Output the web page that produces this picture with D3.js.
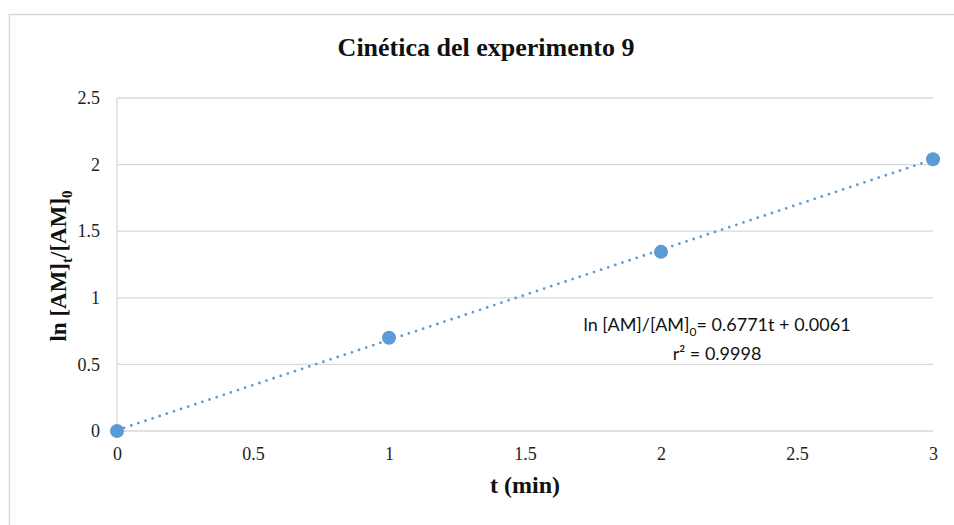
<!DOCTYPE html>
<html>
<head>
<meta charset="utf-8">
<script src="https://cdn.jsdelivr.net/npm/d3@7"></script>
<style>
  body { margin: 0; background: #fff; }
</style>
</head>
<body>
<div id="chart"></div>
<script>
// data
const times = [0, 1, 2, 3];
const lnRatio = [0, 0.70, 1.345, 2.04];
const xTicks = [0, 0.5, 1, 1.5, 2, 2.5, 3];
const yTicks = [0, 0.5, 1, 1.5, 2, 2.5];
const slope = 0.6771;
const intercept = 0.0061;

const width = 954, height = 525;
const margin = { top: 98, right: 21, bottom: 94, left: 117 };
const blue = "#5b9bd5";
const grid = "#d9d9d9";
const serif = "'Liberation Serif', 'Times New Roman', serif";

const svg = d3.select("#chart").append("svg")
  .attr("width", width)
  .attr("height", height);

// chart frame
svg.append("rect")
  .attr("x", 9.5).attr("y", 14.5)
  .attr("width", 960).attr("height", 540)
  .attr("fill", "#fff")
  .attr("stroke", grid)
  .attr("stroke-width", 1.5);

const x = d3.scaleLinear().domain([0, 3]).range([margin.left, width - margin.right]);
const y = d3.scaleLinear().domain([0, 2.5]).range([height - margin.bottom, margin.top]);

// gridlines
svg.append("g")
  .selectAll("line")
  .data(yTicks)
  .join("line")
  .attr("x1", x(0)).attr("x2", x(3))
  .attr("y1", d => y(d)).attr("y2", d => y(d))
  .attr("stroke", grid)
  .attr("stroke-width", 1.3);

// y axis line
svg.append("line")
  .attr("x1", x(0)).attr("x2", x(0))
  .attr("y1", y(0)).attr("y2", y(2.5))
  .attr("stroke", grid)
  .attr("stroke-width", 1.3);

// axes (labels only)
const xAxis = svg.append("g")
  .attr("transform", `translate(0,${y(0)})`)
  .call(d3.axisBottom(x).tickValues(xTicks).tickSize(0).tickPadding(16).tickFormat(d3.format("")));
const yAxis = svg.append("g")
  .attr("transform", `translate(${x(0)},0)`)
  .call(d3.axisLeft(y).tickValues(yTicks).tickSize(0).tickPadding(17).tickFormat(d3.format("")));

[xAxis, yAxis].forEach(a => {
  a.select(".domain").remove();
  a.selectAll("text")
    .style("font-family", serif)
    .style("font-size", "18px")
    .attr("fill", "#222");
});

// trendline
svg.append("line")
  .attr("x1", x(0)).attr("y1", y(intercept))
  .attr("x2", x(3)).attr("y2", y(slope * 3 + intercept))
  .attr("stroke", blue)
  .attr("stroke-width", 2.8)
  .attr("stroke-linecap", "round")
  .attr("stroke-dasharray", "0,7.5");

// points
svg.append("g")
  .selectAll("circle")
  .data(times.map((t, i) => ({ t, v: lnRatio[i] })))
  .join("circle")
  .attr("cx", d => x(d.t))
  .attr("cy", d => y(d.v))
  .attr("r", 7)
  .attr("fill", blue);

// title
svg.append("text")
  .attr("x", 486).attr("y", 56)
  .attr("text-anchor", "middle")
  .style("font-family", serif)
  .style("font-weight", "bold")
  .style("font-size", "26px")
  .attr("fill", "#111")
  .text("Cinética del experimento 9");

// x axis title
svg.append("text")
  .attr("x", 525).attr("y", 493)
  .attr("text-anchor", "middle")
  .style("font-family", serif)
  .style("font-weight", "bold")
  .style("font-size", "24px")
  .attr("fill", "#111")
  .text("t (min)");

// y axis title
const yTitle = svg.append("text")
  .attr("transform", "translate(66,266) rotate(-90)")
  .attr("text-anchor", "middle")
  .style("font-family", serif)
  .style("font-weight", "bold")
  .style("font-size", "23px")
  .attr("fill", "#111");
yTitle.append("tspan").text("ln [AM]");
yTitle.append("tspan").attr("dy", 6).style("font-size", "15px").text("t");
yTitle.append("tspan").attr("dy", -6).text("/[AM]");
yTitle.append("tspan").attr("dy", 6).style("font-size", "15px").text("0");

// equation label
const eq = svg.append("text")
  .attr("x", 717).attr("y", 331)
  .attr("text-anchor", "middle")
  .style("font-family", "Lato, 'Noto Sans', sans-serif")
  .style("font-size", "18px")
  .attr("fill", "#111");
eq.append("tspan").text("ln [AM]/[AM]");
eq.append("tspan").attr("dy", 5).style("font-size", "12px").text("0");
eq.append("tspan").attr("dy", -5).text("= " + slope + "t + " + intercept);

svg.append("text")
  .attr("x", 717).attr("y", 360)
  .attr("text-anchor", "middle")
  .style("font-family", "Lato, 'Noto Sans', sans-serif")
  .style("font-size", "18px")
  .attr("fill", "#111")
  .text("r² = 0.9998");
</script>
</body>
</html>
